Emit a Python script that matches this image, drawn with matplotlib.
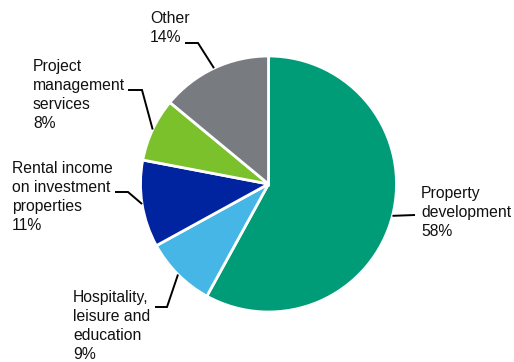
import numpy as np
import matplotlib
matplotlib.use("Agg")
import matplotlib.pyplot as plt

categories = ["Property\ndevelopment", "Hospitality,\nleisure and\neducation",
              "Rental income\non investment\nproperties", "Project\nmanagement\nservices", "Other"]
values = [58, 9, 11, 8, 14]
colors = ["#009B77", "#45B6E5", "#0023A0", "#7AC12C", "#787C80"]

W, H = 514, 362
fig = plt.figure(figsize=(W / 100, H / 100), dpi=100)
ax = fig.add_axes([0, 0, 1, 1])
ax.set_xlim(0, W)
ax.set_ylim(0, H)
ax.axis("off")

cx, cy, R = 268.5, H - 184, 128
wedges, _ = ax.pie(values, colors=colors, startangle=90, counterclock=False,
                   center=(cx, cy), radius=R,
                   wedgeprops=dict(edgecolor="white", linewidth=2))
ax.set_xlim(0, W)
ax.set_ylim(0, H)

LINE = 19  # line pitch in px
# layout: (elbow x, elbow y, end x, end y, text x, first baseline y) in pixel coords (y down)
layout = [
    (415, 215, 415, 215, 421, 198),
    (167, 307, 155, 307, 73, 302),
    (128, 192, 115, 192, 12, 173),
    (142, 90, 128, 90, 33, 71),
    (198, 43, 185, 43, 150, 23),
]

for w, cat, v, lay in zip(wedges, categories, values, layout):
    mid = np.deg2rad((w.theta1 + w.theta2) / 2)
    ex, ey = cx + R * np.cos(mid), cy + R * np.sin(mid)
    bx, by, tx, ty, lx, ly = lay
    ax.plot([ex, bx, tx], [ey, H - by, H - ty], color="black", lw=1.4,
            solid_capstyle="butt", solid_joinstyle="miter")
    label = f"{cat}\n{v}%"
    nlines = label.count("\n")
    ax.text(lx, H - (ly + nlines * LINE), label, ha="left", va="baseline",
            fontsize=11.3, family="Liberation Sans", color="#111111",
            linespacing=1.33)

fig.savefig("out.png", dpi=100)
